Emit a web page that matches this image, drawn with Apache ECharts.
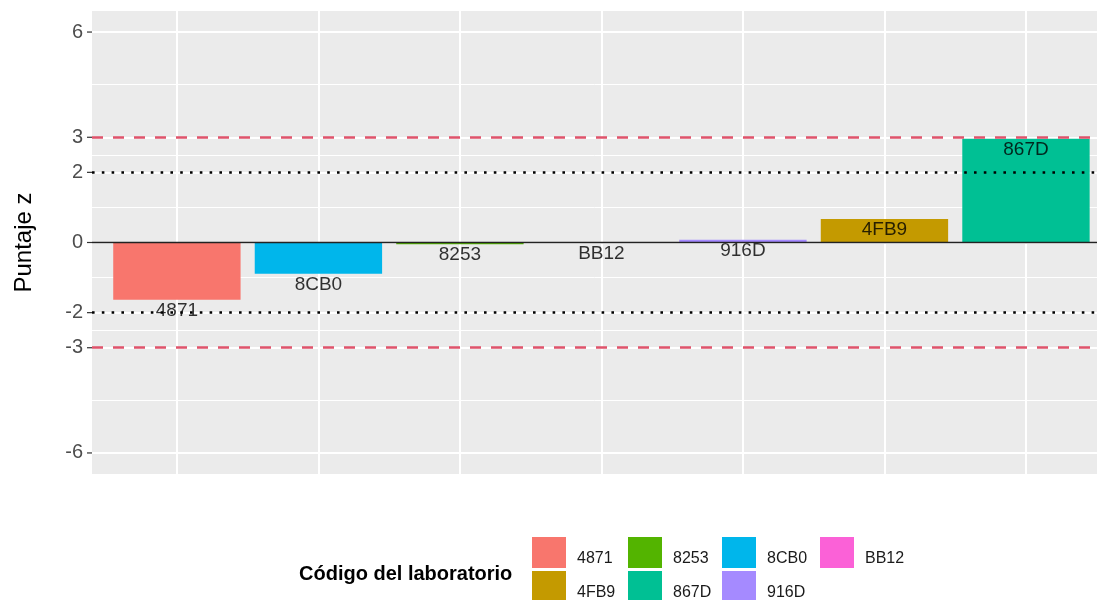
<!DOCTYPE html>
<html>
<head>
<meta charset="utf-8">
<script src="https://cdn.jsdelivr.net/npm/echarts@6/dist/echarts.min.js"></script>
<style>html,body{margin:0;padding:0;background:#fff;}#c{width:1097px;height:600px;}</style>
</head>
<body>
<div id="c"></div>
<script>
// Data
var labs = ['4871', '8CB0', '8253', 'BB12', '916D', '4FB9', '867D'];
var zScores = [-1.63, -0.89, -0.05, 0, 0.08, 0.67, 2.96];
var legendOrder = ['4871', '4FB9', '8253', '867D', '8CB0', '916D', 'BB12'];
var legendColors = ['#F8766D', '#C49A00', '#53B400', '#00C094', '#00B6EB', '#A58AFF', '#FB61D7'];
var yTicks = [-6, -3, -2, 0, 2, 3, 6];
var yMinor = [-4.5, -2.5, -1, 1, 2.5, 4.5];
var warnLimits = [-2, 2];
var actionLimits = [-3, 3];

var X_MIN = -0.6;
var colorOf = {};
legendOrder.forEach(function (n, i) { colorOf[n] = legendColors[i]; });

var barData = labs.map(function (n, i) {
  return { value: [i, zScores[i]], itemStyle: { color: colorOf[n] } };
});
var labelData = labs.map(function (n, i) { return { value: [i, zScores[i]], name: n }; });

var gridLines = [];
yTicks.forEach(function (v) { gridLines.push({ yAxis: v, lineStyle: { width: 2 } }); });
yMinor.forEach(function (v) { gridLines.push({ yAxis: v, lineStyle: { width: 1 } }); });
labs.forEach(function (n, i) { gridLines.push({ xAxis: i, lineStyle: { width: 2 } }); });

var refLines = [];
actionLimits.forEach(function (v) {
  refLines.push({ yAxis: v, lineStyle: { color: '#DF536B', width: 2.6, type: [11, 10], cap: 'butt' } });
});
warnLimits.forEach(function (v) {
  refLines.push({ yAxis: v, lineStyle: { color: '#000', width: 2.6, type: [2.6, 7.2], cap: 'butt' } });
});
refLines.push({ yAxis: 0, lineStyle: { color: '#222', width: 1.3, type: 'solid' } });

var series = [
  {
    type: 'bar', name: 'z', data: barData, barWidth: '90%', z: 2,
    markLine: { silent: true, symbol: ['none', 'none'], label: { show: false }, z: 1, animation: false,
      lineStyle: { color: '#fff', type: 'solid' }, data: gridLines }
  },
  {
    type: 'scatter', data: labelData, symbolSize: 1, z: 3,
    itemStyle: { color: 'transparent' },
    label: { show: true, position: 'inside', offset: [0, 11], formatter: function (p) { return p.name; },
      color: '#000', fontSize: 19, fontFamily: 'Liberation Sans, Arial, sans-serif' },
    markLine: { silent: true, symbol: ['none', 'none'], label: { show: false }, z: 10, animation: false, data: refLines }
  },
  {
    type: 'custom', silent: true, clip: false, z: 4,
    data: yTicks.map(function (v) { return [X_MIN, v]; }),
    renderItem: function (params, api) {
      var p = api.coord([api.value(0), api.value(1)]);
      return { type: 'line', shape: { x1: p[0] - 5, y1: p[1], x2: p[0], y2: p[1] },
        style: { stroke: '#333', lineWidth: 1.2 } };
    }
  }
];
legendOrder.forEach(function (n, i) {
  series.push({ type: 'line', name: n, data: [], color: legendColors[i], itemStyle: { color: legendColors[i] } });
});

var legendCols = [[0, 1], [2, 3], [4, 5], [6]];
var legendLefts = [532, 628, 722, 820];
var legends = legendCols.map(function (idx, k) {
  return {
    orient: 'vertical', left: legendLefts[k], top: 537, height: 100, width: 90, padding: 0,
    itemWidth: 34, itemHeight: 31, itemGap: 3, icon: 'rect', selectedMode: false,
    data: idx.map(function (j) { return legendOrder[j]; }),
    formatter: '{t|{name}}',
    textStyle: { fontSize: 16, color: '#1a1a1a', fontFamily: 'Liberation Sans, Arial, sans-serif',
      rich: { t: { fontSize: 16, color: '#1a1a1a', fontFamily: 'Liberation Sans, Arial, sans-serif', padding: [12, 0, 0, 6] } } }
  };
});

var chart = echarts.init(document.getElementById('c'));
chart.setOption({
  animation: false,
  title: { text: 'Código del laboratorio', left: 299, top: 564, padding: 0,
    textStyle: { fontSize: 20, fontWeight: 'bold', color: '#000', fontFamily: 'Liberation Sans, Arial, sans-serif' } },
  legend: legends,
  grid: { left: 92, right: 0, top: 11, height: 463, show: true, backgroundColor: '#EBEBEB', borderWidth: 0 },
  xAxis: {
    type: 'value', min: X_MIN, max: 6.502,
    axisLine: { show: false }, axisTick: { show: false }, axisLabel: { show: false }, splitLine: { show: false }
  },
  yAxis: {
    type: 'value', min: -6.6, max: 6.6,
    name: 'Puntaje z', nameLocation: 'middle', nameGap: 56,
    nameTextStyle: { fontSize: 24, color: '#000', fontFamily: 'Liberation Sans, Arial, sans-serif' },
    axisLine: { show: false },
    axisTick: { show: false },
    axisLabel: { customValues: yTicks, margin: 9, fontSize: 20, color: '#4D4D4D', fontFamily: 'Liberation Sans, Arial, sans-serif' },
    splitLine: { show: false }
  },
  series: series
});
</script>
</body>
</html>
